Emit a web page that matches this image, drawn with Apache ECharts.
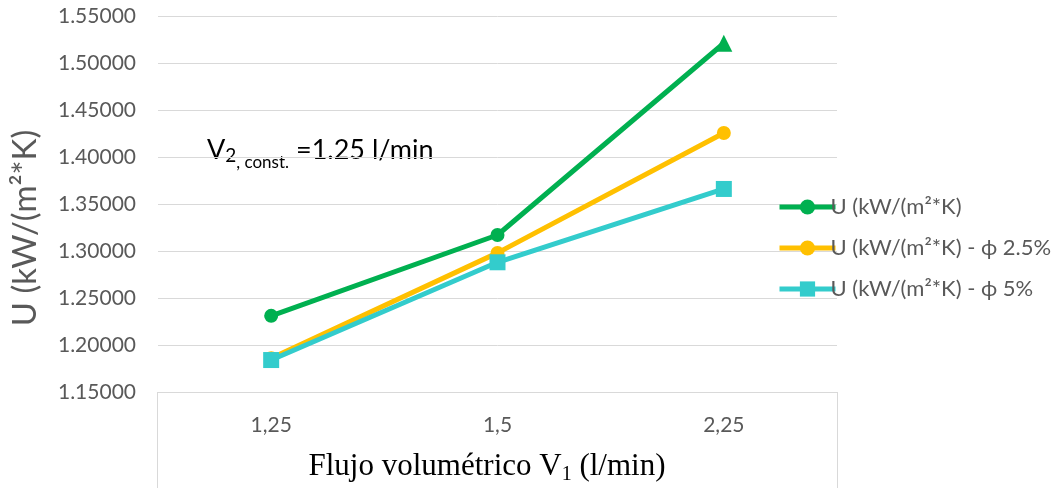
<!DOCTYPE html>
<html>
<head>
<meta charset="utf-8">
<script src="https://cdn.jsdelivr.net/npm/echarts@6/dist/echarts.min.js"></script>
<style>
  html, body { margin: 0; padding: 0; background: #ffffff; }
  #chart { width: 1058px; height: 488px; }
</style>
</head>
<body>
<div id="chart"></div>
<script>
// Flow rates V1 (l/min) on the category axis
const categories = ['1,25', '1,5', '2,25'];

// Overall heat transfer coefficient U, kW/(m²*K)
const uBase = [1.231, 1.317, 1.521];
const uPhi25 = [1.186, 1.298, 1.4255];
const uPhi5 = [1.184, 1.288, 1.366];

const seriesNames = ['U (kW/(m²*K)', 'U (kW/(m²*K) - ϕ 2.5%', 'U (kW/(m²*K) - ϕ 5%'];

// Y axis range
const yMin = 1.15;
const yMax = 1.55;
const yStep = 0.05;

const sans = 'Lato, "Noto Sans", sans-serif';
const serif = '"Liberation Serif", "DejaVu Serif", serif';
const gridColor = '#D9D9D9';
const textColor = '#595959';

const chart = echarts.init(document.getElementById('chart'));

function lineSeries(name, data, color, symbol, size) {
  return {
    name: name,
    type: 'line',
    data: data,
    symbol: symbol,
    symbolSize: size,
    showSymbol: true,
    lineStyle: { color: color, width: 5 },
    itemStyle: { color: color },
    emphasis: { disabled: true }
  };
}

const series = [
  lineSeries(seriesNames[0], uBase, '#00B050', 'circle', 14),
  lineSeries(seriesNames[1], uPhi25, '#FFC000', 'circle', 14),
  lineSeries(seriesNames[2], uPhi5, '#33CCCC', 'rect', 16)
];
// last point of the first series uses a triangle marker
series[0].data = uBase.map((v, i) => i === uBase.length - 1
  ? { value: v, symbol: 'triangle', symbolSize: 17 }
  : v);

chart.setOption({
  animation: false,
  backgroundColor: '#ffffff',
  grid: { left: 158, right: 221, top: 16, bottom: 96 },
  xAxis: {
    type: 'category',
    data: categories,
    boundaryGap: true,
    axisLine: { show: true, lineStyle: { color: gridColor, width: 1 } },
    axisTick: { show: false },
    axisLabel: { color: textColor, fontFamily: sans, fontSize: 21, margin: 23 }
  },
  yAxis: {
    type: 'value',
    min: yMin,
    max: yMax,
    interval: yStep,
    axisLine: { show: false },
    axisTick: { show: false },
    splitLine: { lineStyle: { color: gridColor, width: 1 } },
    axisLabel: {
      color: textColor, fontFamily: sans, fontSize: 21, margin: 22,
      formatter: v => v.toFixed(5)
    }
  },
  legend: {
    orient: 'vertical',
    left: 772,
    top: 191,
    itemWidth: 56,
    itemHeight: 19,
    itemGap: 19,
    lineStyle: { width: 5 },
    textStyle: { color: textColor, fontFamily: sans, fontSize: 22, padding: [0, 0, 0, -10] },
    data: seriesNames
  },
  graphic: [
    // box under the plot that frames the category labels
    { type: 'line', shape: { x1: 157.5, y1: 392, x2: 157.5, y2: 488 }, style: { stroke: gridColor, lineWidth: 1 } },
    { type: 'line', shape: { x1: 837.5, y1: 392, x2: 837.5, y2: 488 }, style: { stroke: gridColor, lineWidth: 1 } },
    {
      type: 'text', x: 25, y: 228, rotation: Math.PI / 2,
      style: {
        text: 'U (kW/(m²*K)', fontFamily: sans, fontSize: 33, fill: textColor,
        align: 'center', verticalAlign: 'middle'
      }
    },
    {
      type: 'text', x: 487, y: 467,
      style: {
        text: '{m|Flujo volumétrico V}{s|1}{m| (l/min)}',
        align: 'center', verticalAlign: 'middle',
        rich: {
          m: { fontFamily: serif, fontSize: 31, color: textColor },
          s: { fontFamily: serif, fontSize: 20, color: textColor, padding: [15, 0, 0, 0] }
        }
      }
    },
    {
      type: 'text', x: 207, y: 150,
      style: {
        text: '{m|V}{a|2}{b|, const.}{m| =1.25 l/min}',
        align: 'left', verticalAlign: 'middle',
        rich: {
          m: { fontFamily: sans, fontSize: 27, color: '#000000' },
          a: { fontFamily: sans, fontSize: 19, color: '#000000', padding: [11, 0, 0, 0] },
          b: { fontFamily: sans, fontSize: 17, color: '#000000', padding: [26, 0, 0, 0] }
        }
      }
    }
  ],
  series: series
});
</script>
</body>
</html>
